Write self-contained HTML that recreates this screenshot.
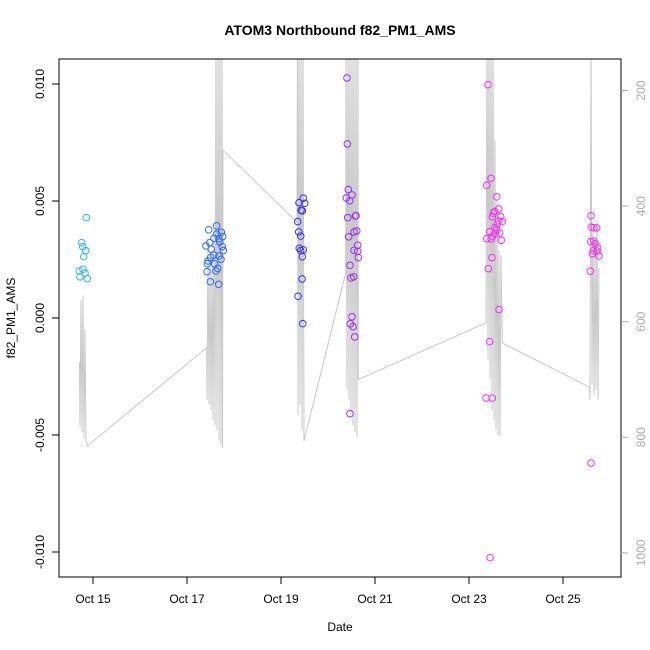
<!DOCTYPE html>
<html><head><meta charset="utf-8"><style>
html,body{margin:0;padding:0;background:#fff}
svg{display:block;font-family:"Liberation Sans",sans-serif}
</style></head><body>
<svg id="c" width="650" height="650" viewBox="0 0 650 650">
<text x="340" y="35" text-anchor="middle" font-size="14" font-weight="bold">ATOM3 Northbound f82_PM1_AMS</text>
<text x="340" y="631" text-anchor="middle" font-size="12">Date</text>
<text transform="translate(15,318) rotate(-90)" text-anchor="middle" font-size="12">f82_PM1_AMS</text>
<defs><clipPath id="pc"><rect x="59" y="59" width="562" height="518"/></clipPath></defs>
<g id="grey" clip-path="url(#pc)"></g>
<g id="pts" clip-path="url(#pc)"></g>
<rect x="59" y="59" width="562" height="518" fill="none" stroke="#000" stroke-width="1"/>
<g id="axes"></g>
</svg>
<script>
// x values are days since Oct 15 00:00
const xTickLabels = ["Oct 15","Oct 17","Oct 19","Oct 21","Oct 23","Oct 25"];
const xTickDays = [0,2,4,6,8,10];
const yTickValues = [-0.010,-0.005,0.000,0.005,0.010];
const yTickLabels = ["-0.010","-0.005","0.000","0.005","0.010"];
const y2TickValues = [200,400,600,800,1000];
const pointDays = [-0.143,-0.240,-0.219,-0.155,-0.198,-0.291,-0.213,-0.170,-0.277,-0.121,
2.632,2.462,2.730,2.632,2.760,2.574,2.681,2.483,2.696,2.404,2.751,2.517,2.772,2.568,2.681,2.504,2.723,2.447,2.589,2.432,2.653,2.617,2.426,2.496,2.674,
4.474,4.383,4.504,4.426,4.453,4.355,4.377,4.419,4.389,4.474,4.419,4.453,4.447,4.362,4.462,
5.404,5.411,5.432,5.389,5.511,5.462,5.596,5.581,5.419,5.611,5.553,5.440,5.632,5.553,5.632,5.645,5.468,5.489,5.547,5.511,5.474,5.532,5.568,5.468,
8.404,8.468,8.377,8.589,8.632,8.547,8.517,8.674,8.496,8.709,8.632,8.602,8.547,8.589,8.440,8.653,8.560,8.504,8.377,8.474,8.687,8.489,8.411,8.638,8.440,8.362,8.496,8.447,
10.596,10.602,10.660,10.717,10.589,10.653,10.687,10.738,10.645,10.623,10.723,10.766,10.581,10.596];
const pointValues = [0.00429,0.00322,0.00305,0.00288,0.00262,0.00201,0.00208,0.00192,0.00176,0.00168,
0.00394,0.00377,0.00366,0.00358,0.00348,0.00341,0.00339,0.00322,0.00325,0.00308,0.00305,0.00294,0.00288,0.00269,0.00265,0.00259,0.00251,0.00244,0.00231,0.00232,0.00212,0.00201,0.00198,0.00155,0.00144,
0.00512,0.00493,0.00490,0.00460,0.00458,0.00412,0.00368,0.00350,0.00298,0.00291,0.00288,0.00262,0.00167,0.00093,-0.00024,
0.01026,0.00744,0.00549,0.00513,0.00526,0.00501,0.00437,0.00436,0.00429,0.00372,0.00368,0.00347,0.00311,0.00289,0.00285,0.00258,0.00225,0.00171,0.00176,0.00005,-0.00025,-0.00037,-0.00081,-0.00409,
0.00997,0.00597,0.00567,0.00518,0.00466,0.00455,0.00448,0.00433,0.00433,0.00412,0.00415,0.00401,0.00386,0.00379,0.00369,0.00363,0.00362,0.00350,0.00339,0.00338,0.00332,0.00258,0.00211,0.00036,-0.00101,-0.00342,-0.00342,-0.01024,
0.00437,0.00388,0.00386,0.00385,0.00326,0.00329,0.00318,0.00299,0.00288,0.00275,0.00286,0.00265,0.00200,-0.00620];
const greyDays = [-0.287,-0.277,-0.255,-0.234,-0.213,-0.191,-0.170,-0.149,-0.121,2.419,
2.426,2.447,2.468,2.489,2.511,2.532,2.553,2.574,2.596,2.617,2.638,2.660,2.681,2.702,2.723,2.745,2.755,2.766,4.340,
4.351,4.362,4.383,4.404,4.426,4.447,4.468,4.489,5.377,
5.383,5.404,5.426,5.447,5.468,5.489,5.511,5.532,5.553,5.574,5.596,5.617,5.638,5.645,8.362,
8.383,8.404,8.426,8.447,8.468,8.489,8.511,8.532,8.553,8.574,8.596,8.617,8.638,8.660,8.681,8.709,10.560,
10.574,10.596,10.617,10.638,10.660,10.681,10.702,10.723,10.745,10.766];
const greyValues = [670,782,562,791,555,801,614,805,815,645,
735,458,744,493,753,476,770,441,779,100,787,100,805,100,813,100,818,303,428,
100,761,100,744,100,787,100,806,516,
100,718,100,735,100,761,100,779,100,791,100,800,100,700,602,
100,666,100,700,100,753,100,770,286,787,390,796,476,798,485,637,713,
735,100,709,441,727,458,718,424,735,507];

const NS="http://www.w3.org/2000/svg";
const X = d => 93 + d*47;
const Y = v => 318 - v*23400;
const Y2 = v => 90.5 + (v-200)*0.578;
function mk(tag, attrs, parent){const e=document.createElementNS(NS,tag);for(const k in attrs)e.setAttribute(k,attrs[k]);parent.appendChild(e);return e;}
const axes=document.getElementById('axes');
xTickDays.forEach((d,i)=>{
  const l=mk('line',{x1:X(d),x2:X(d),y1:577,y2:584,stroke:'#000'},axes);
  
  
  const t=mk('text',{x:X(d),y:603,'text-anchor':'middle','font-size':12},axes);
  
  
  t.textContent=xTickLabels[i];
});
yTickValues.forEach((v,i)=>{
  const l=mk('line',{x1:52,x2:59,y1:Y(v),y2:Y(v),stroke:'#000'},axes);
  
  
  const t=mk('text',{transform:`translate(44,${Y(v)}) rotate(-90)`,'text-anchor':'middle','font-size':12},axes);
  
  
  t.textContent=yTickLabels[i];
});
y2TickValues.forEach(v=>{
  const l=mk('line',{x1:621,x2:628,y1:Y2(v),y2:Y2(v),stroke:'#aaa'},axes);
  
  
  const t=mk('text',{transform:`translate(645,${Y2(v)}) rotate(-90)`,'text-anchor':'middle','font-size':12,fill:'#aaa'},axes);
  
  
  t.textContent=String(v);
});
const g=document.getElementById('grey');
const pl=mk('polyline',{points:greyDays.map((d,i)=>X(d)+','+Y2(greyValues[i])).join(' '),fill:'none',stroke:'#c8c8c8','stroke-width':1},g);


const hs=[[-0.3,200],[2.6,222],[4.4,243],[5.5,272],[8.5,300],[10.8,305]];
function hue(d){for(let i=1;i<hs.length;i++){if(d<=hs[i][0]){const a=hs[i-1],b=hs[i];return a[1]+(b[1]-a[1])*(d-a[0])/(b[0]-a[0]);}}return 305;}
const p=document.getElementById('pts');
pointDays.forEach((d,i)=>{
  const c=mk('circle',{cx:X(d),cy:Y(pointValues[i]),r:3.3,fill:'none',stroke:`hsl(${hue(d)},95%,58%)`,'stroke-width':1},p);
  
  
});
</script>
</body></html>
